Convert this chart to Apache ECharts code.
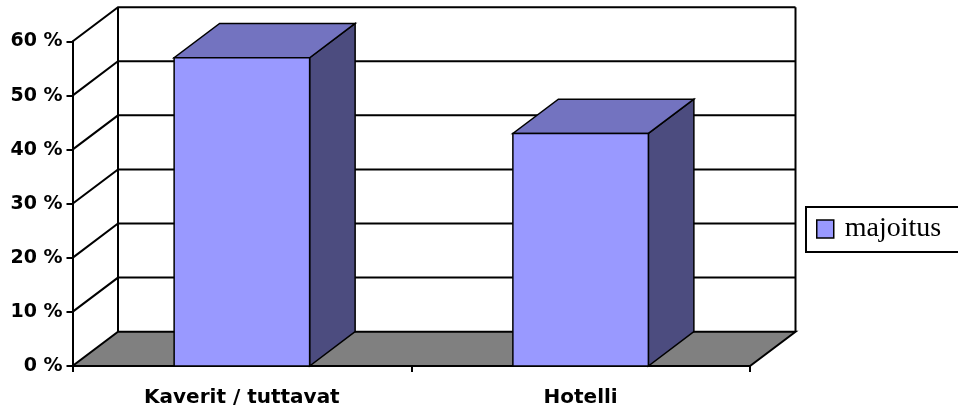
<!DOCTYPE html>
<html>
<head>
<meta charset="utf-8">
<script src="https://cdn.jsdelivr.net/npm/echarts@6/dist/echarts.min.js"></script>
<style>
  html, body { margin: 0; padding: 0; background: #fff; }
  #chart { width: 958px; height: 412px; }
</style>
</head>
<body>
<div id="chart"></div>
<script>
// Data
const categories = ['Kaverit / tuttavat', 'Hotelli'];
const seriesName = 'majoitus';
const majoitus = [0.57, 0.43];
const yTicks = [0, 0.1, 0.2, 0.3, 0.4, 0.5, 0.6];

// 3D box depth (horizontal / vertical offset of the back plane)
const DX = 45.5;
const DY = 34.3;
const LABEL_FONT = '"DejaVu Sans", sans-serif';

const chart = echarts.init(document.getElementById('chart'), null, { renderer: 'canvas' });

// Back wall, side wall grid lines and the grey floor
function renderWalls(params, api) {
  const cs = params.coordSys;
  const v = api.value(1);
  const x0 = cs.x, x1 = cs.x + cs.width;
  const y = api.coord([0, v])[1];
  const line = { stroke: '#000', lineWidth: 2, fill: null };
  if (v === 0) {
    const yTop = cs.y - DY, yBot = cs.y + cs.height - DY;
    return {
      type: 'group',
      children: [
        { type: 'polygon', shape: { points: [[x0, y], [x1, y], [x1 + DX, y - DY], [x0 + DX, y - DY]] },
          style: { fill: '#808080', stroke: '#000', lineWidth: 2 } },
        { type: 'line', shape: { x1: x0 + DX, y1: yTop, x2: x0 + DX, y2: yBot }, style: line },
        { type: 'line', shape: { x1: x1 + DX, y1: yTop, x2: x1 + DX, y2: yBot }, style: line }
      ]
    };
  }
  return {
    type: 'polyline',
    shape: { points: [[x0, y], [x0 + DX, y - DY], [x1 + DX, y - DY]] },
    style: line
  };
}

// 3D column: front face, top and right side
function renderBar(params, api) {
  const idx = api.value(0);
  const val = api.value(1);
  const base = api.coord([idx, 0]);
  const top = api.coord([idx, val]);
  const w = api.size([1, 0])[0] * 0.4;
  const xl = base[0] - w / 2, xr = base[0] + w / 2;
  const y0 = base[1], y1 = top[1];
  const edge = { stroke: '#000', lineWidth: 1.5 };
  return {
    type: 'group',
    children: [
      { type: 'polygon', shape: { points: [[xr, y1], [xr + DX, y1 - DY], [xr + DX, y0 - DY], [xr, y0]] },
        style: Object.assign({ fill: '#4C4C7F' }, edge) },
      { type: 'polygon', shape: { points: [[xl, y1], [xr, y1], [xr + DX, y1 - DY], [xl + DX, y1 - DY]] },
        style: Object.assign({ fill: '#7373C0' }, edge) },
      { type: 'rect', shape: { x: xl, y: y1, width: w, height: y0 - y1 },
        style: Object.assign({ fill: '#9999FF' }, edge) }
    ]
  };
}

chart.setOption({
  animation: false,
  backgroundColor: '#fff',
  grid: { left: 72.5, right: 208, top: 41.5, bottom: 46, containLabel: false, outerBoundsMode: 'none' },
  legend: {
    data: [{ name: seriesName, icon: 'rect' }],
    left: 806,
    top: 207,
    orient: 'vertical',
    itemWidth: 17,
    itemHeight: 18,
    padding: [8, 80, 9, 10],
    borderColor: '#000',
    borderWidth: 2,
    itemStyle: { borderColor: '#000', borderWidth: 1.5 },
    textStyle: { fontFamily: '"Liberation Serif", "Times New Roman", serif', fontSize: 28, color: '#000', padding: [0, 0, 0, 6] }
  },
  xAxis: {
    type: 'category',
    data: categories,
    boundaryGap: true,
    axisLine: { show: true, lineStyle: { color: '#000', width: 2 } },
    axisTick: { show: true, length: 6, lineStyle: { color: '#000', width: 2 } },
    axisLabel: { margin: 22, color: '#000', fontFamily: LABEL_FONT, fontWeight: 'bold', fontSize: 20 },
    splitLine: { show: false }
  },
  yAxis: {
    type: 'value',
    min: 0,
    max: 0.6,
    interval: 0.1,
    axisLine: { show: true, lineStyle: { color: '#000', width: 2 } },
    axisTick: { show: true, length: 6, lineStyle: { color: '#000', width: 2 } },
    axisLabel: {
      margin: 10, color: '#000', fontFamily: LABEL_FONT, fontWeight: 'bold', fontSize: 19,
      formatter: v => Math.round(v * 100) + ' %'
    },
    splitLine: { show: false }
  },
  series: [
    {
      name: 'walls',
      type: 'custom',
      renderItem: renderWalls,
      data: yTicks.map(v => [0, v]),
      silent: true,
      z: 1
    },
    {
      name: seriesName,
      type: 'custom',
      renderItem: renderBar,
      itemStyle: { color: '#9999FF' },
      data: majoitus.map((v, i) => [i, v]),
      z: 5
    }
  ]
});
</script>
</body>
</html>
